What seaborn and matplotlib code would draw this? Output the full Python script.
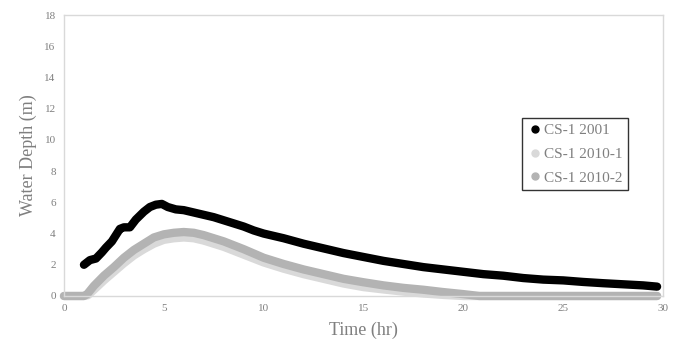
import matplotlib
matplotlib.use("Agg")
import matplotlib.pyplot as plt
import pandas as pd
import seaborn as sns
from matplotlib.lines import Line2D

# CS-1 2001
t_2001 = [1.0, 1.3, 1.6, 1.9, 2.1, 2.4, 2.8, 3.0, 3.3, 3.6, 4.0, 4.3, 4.6, 4.9,
          5.2, 5.6, 6.0, 6.5, 7.0, 7.5, 8.0, 8.5, 9.0, 9.5, 10, 11, 12, 13, 14,
          15, 16, 17, 18, 19, 20, 21, 22, 23, 24, 25, 26, 27, 28, 29, 29.7]
d_2001 = [2.0, 2.3, 2.4, 2.8, 3.1, 3.5, 4.3, 4.4, 4.4, 4.9, 5.4, 5.7, 5.85, 5.9,
          5.7, 5.55, 5.5, 5.35, 5.2, 5.05, 4.85, 4.65, 4.45, 4.2, 4.0, 3.7, 3.35,
          3.05, 2.75, 2.5, 2.25, 2.05, 1.85, 1.7, 1.55, 1.4, 1.3, 1.15, 1.05, 1.0,
          0.9, 0.82, 0.75, 0.68, 0.6]

# CS-1 2010-1
t_2010_1 = [0, 0.5, 1.0, 1.2, 1.5, 2, 2.5, 3, 3.5, 4, 4.5, 5, 5.5, 6, 6.5, 7, 8,
            9, 10, 11, 12, 13, 14, 15, 16, 17, 18, 19, 20, 22, 25, 29.7]
d_2010_1 = [0, 0, 0, 0.05, 0.4, 1.0, 1.55, 2.1, 2.6, 3.0, 3.35, 3.6, 3.7,
            3.75, 3.7, 3.55, 3.15, 2.65, 2.15, 1.75, 1.4, 1.1, 0.8, 0.57, 0.42, 0.28,
            0.16, 0.07, 0, 0, 0, 0]

# CS-1 2010-2
t_2010_2 = [0, 0.5, 1.0, 1.15, 1.5, 2.0, 2.5, 3.0, 3.5, 4.0, 4.5, 5.0, 5.5, 6.0,
            6.5, 7.0, 8.0, 9.0, 10, 11, 12, 13, 14, 15, 16, 17, 18, 19, 20, 20.8,
            22, 25, 29.7]
d_2010_2 = [0, 0, 0, 0.1, 0.65, 1.3, 1.85, 2.45, 2.95, 3.35, 3.75, 3.95, 4.05,
            4.1, 4.05, 3.9, 3.5, 3.0, 2.45, 2.05, 1.7, 1.4, 1.1, 0.88, 0.68, 0.52,
            0.4, 0.25, 0.12, 0.0, 0, 0, 0]

names = ["CS-1 2001", "CS-1 2010-1", "CS-1 2010-2"]
colors = ["#000000", "#D9D9D9", "#B3B3B3"]

df = pd.concat([
    pd.DataFrame({"time": t_2001, "depth": d_2001, "series": names[0]}),
    pd.DataFrame({"time": t_2010_1, "depth": d_2010_1, "series": names[1]}),
    pd.DataFrame({"time": t_2010_2, "depth": d_2010_2, "series": names[2]}),
])

sns.set_style("white")
plt.rcParams["font.family"] = ["Liberation Serif", "DejaVu Serif"]

fig = plt.figure(figsize=(6.85, 3.59), dpi=100)
ax = fig.add_axes([0.0934, 0.1755, 0.8746, 0.7825])

sns.lineplot(data=df, x="time", y="depth", hue="series", palette=colors,
             hue_order=names, sort=False, linewidth=6, legend=False, ax=ax)
for ln in ax.get_lines():
    ln.set_solid_capstyle("round")
    ln.set_solid_joinstyle("round")
    ln.set_clip_on(False)

ax.set_xlim(0, 30)
ax.set_ylim(0, 18)
ax.set_xticks(range(0, 31, 5))
ax.set_yticks(range(0, 19, 2))
ax.tick_params(axis="both", length=0, labelsize=8, labelcolor="#7F7F7F", pad=6)
for s in ax.spines.values():
    s.set_color("#D9D9D9")
    s.set_linewidth(1)

ax.set_xlabel("Time (hr)", fontsize=13, color="#7F7F7F", labelpad=6)
ax.set_ylabel("Water Depth (m)", fontsize=13, color="#7F7F7F", labelpad=5)

handles = [Line2D([], [], linestyle="none", marker="o", markersize=5,
                  markerfacecolor=c, markeredgecolor=c) for c in colors]
leg = ax.legend(handles, names, loc="upper left", bbox_to_anchor=(0.765, 0.632),
                frameon=True, fancybox=False, fontsize=11, handletextpad=0.1,
                handlelength=1.0, borderpad=0.35, labelspacing=0.65,
                borderaxespad=0)
leg.get_frame().set_edgecolor("#000000")
leg.get_frame().set_linewidth(1)
for txt in leg.get_texts():
    txt.set_color("#7F7F7F")

fig.savefig("out.png", dpi=100)
